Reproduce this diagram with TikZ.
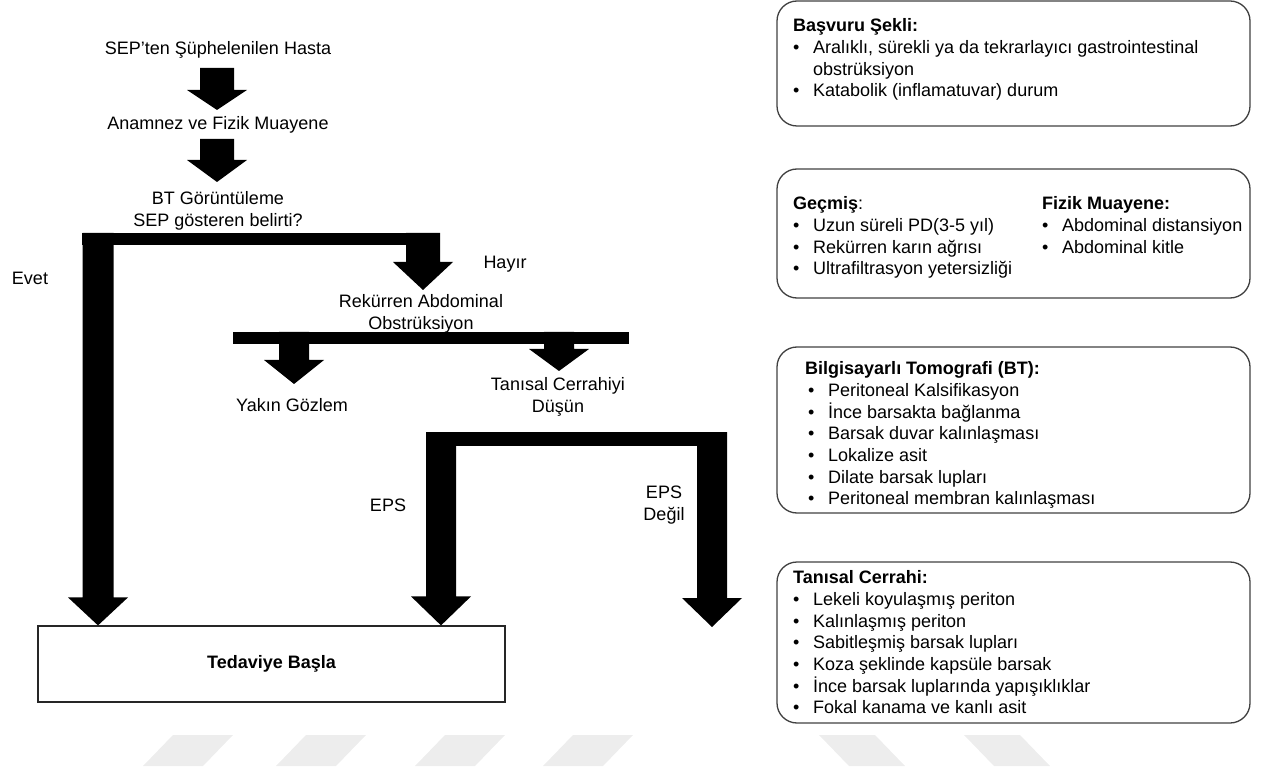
\documentclass[tikz,border=0pt]{standalone}
\usepackage{fontspec}
\setmainfont{Liberation Sans}
\usetikzlibrary{calc}

\tikzset{
	lbl/.style={font=\fontsize{18pt}{21.7pt}\selectfont, inner sep=0pt, align=center},
	infobox/.style={draw=black!75, line width=1.3pt, rounded corners=20pt, outer sep=0pt, minimum width=473pt},
	infotext/.style={font=\fontsize{18pt}{21.7pt}\selectfont, inner sep=0pt, anchor=north west, align=left},
	wmark/.style={fill=black!7}
}
\newcommand{\blt}{\makebox[20pt][l]{\textbullet}}
% block arrow pointing down: top, tip, head length, half shaft
\newcommand{\fatdown}[4]{%
	\fill let \p1=(#1), \p2=(#2) in (\x2-#4,\y1) -- (\x2+#4,\y1) -- (\x2+#4,\y2+#3) -- (\x2+30pt,\y2+#3)
		-- (\x2,\y2) -- (\x2-30pt,\y2+#3) -- (\x2-#4,\y2+#3) -- cycle;}

\begin{document}
\begin{tikzpicture}[x=1pt, y=-1pt]
		\useasboundingbox (0,0) rectangle (1267,767);
		
		% flow on the left
		\node[lbl] (hasta) at (218,50) {SEP’ten Şüphelenilen Hasta};
		\node[lbl] (anam) at (218,125) {Anamnez ve Fizik Muayene};
		\node[lbl] (bt) at (218,211) {BT Görüntüleme\\SEP gösteren belirti?};
		\node[lbl] (evet) at (30,278) {Evet};
		\node[lbl] (hayir) at (505,264) {Hayır};
		\node[lbl] (rekur) at (421,314) {Rekürren Abdominal\\Obstrüksiyon};
		\node[lbl] (yakin) at (292,405) {Yakın Gözlem};
		\node[lbl] (tanis) at (558,397) {Tanısal Cerrahiyi\\Düşün};
		\node[lbl] (eps) at (388,505) {EPS};
		\node[lbl] (epsd) at (664,505) {EPS\\Değil};
		\node[draw=black!85, line width=1.2pt, minimum width=467pt, minimum height=76pt,
			font=\fontsize{18pt}{21.7pt}\selectfont\bfseries] (tedavi) at (271.5,664) {Tedaviye Başla};
		
		% arrows
		\coordinate (a1s) at (217,68);
		\coordinate (a1e) at (217,110);
		\coordinate (a2s) at (217,139);
		\coordinate (a2e) at (217,182);
		\fatdown{a1s}{a1e}{20pt}{17pt}
		\fatdown{a2s}{a2e}{22pt}{17pt}
		
		\coordinate (b1w) at (82,233);
		\coordinate (b1e) at (440,245);
		\coordinate (b1a) at (98,233);
		\coordinate (b1b) at (423,233);
		\fill (b1w) rectangle (b1e);
		\fatdown{b1a}{b1a |- tedavi.north}{28pt}{15.5pt}
		\fatdown{b1b}{423,290}{28pt}{17pt}
		
		\coordinate (b2w) at (233,332);
		\coordinate (b2e) at (629,344);
		\coordinate (b2a) at (294,332);
		\coordinate (b2b) at (559,332);
		\fill (b2w) rectangle (b2e);
		\fatdown{b2a}{294,384}{24pt}{15pt}
		\fatdown{b2b}{559,371}{22pt}{15pt}
		
		\coordinate (b3w) at (426,432);
		\coordinate (b3e) at (727,446);
		\coordinate (b3a) at (441,432);
		\coordinate (b3b) at (712,432);
		\fill (b3w) rectangle (b3e);
		\fatdown{b3a}{b3a |- tedavi.north}{29pt}{15pt}
		\fatdown{b3b}{712,627}{29pt}{15pt}
		
		% boxes on the right
		\node[infobox, minimum height=125pt] (basvuru) at (1013.5,63.5) {};
		\node[infotext] (basvurut) at ($(basvuru.north west)+(16,17.5)$) {\textbf{Başvuru Şekli:}\\
			\blt Aralıklı, sürekli ya da tekrarlayıcı gastrointestinal\\
			\hspace*{20pt}obstrüksiyon\\
			\blt Katabolik (inflamatuvar) durum};
		
		\node[infobox, minimum height=129pt] (gecmis) at (1013.5,233.5) {};
		\node[infotext] (gecmist) at ($(gecmis.north west)+(16,27.5)$) {\textbf{Geçmiş}:\\
			\blt Uzun süreli PD(3-5 yıl)\\
			\blt Rekürren karın ağrısı\\
			\blt Ultrafiltrasyon yetersizliği};
		\node[infotext] (fizikt) at ($(gecmis.north west)+(265,27.5)$) {\textbf{Fizik Muayene:}\\
			\blt Abdominal distansiyon\\
			\blt Abdominal kitle};
		
		\node[infobox, minimum height=166pt] (bilgi) at (1013.5,430) {};
		\node[infotext] (bilgit) at ($(bilgi.north west)+(28,14.5)$) {\textbf{Bilgisayarlı Tomografi (BT):}\\
			\hspace*{3pt}\blt Peritoneal Kalsifikasyon\\
			\hspace*{3pt}\blt İnce barsakta bağlanma\\
			\hspace*{3pt}\blt Barsak duvar kalınlaşması\\
			\hspace*{3pt}\blt Lokalize asit\\
			\hspace*{3pt}\blt Dilate barsak lupları\\
			\hspace*{3pt}\blt Peritoneal membran kalınlaşması};
		
		\node[infobox, minimum height=161pt] (cerrahi) at (1013.5,642.5) {};
		\node[infotext] (cerrahit) at ($(cerrahi.north west)+(16,8.5)$) {\textbf{Tanısal Cerrahi:}\\
			\blt Lekeli koyulaşmış periton\\
			\blt Kalınlaşmış periton\\
			\blt Sabitleşmiş barsak lupları\\
			\blt Koza şeklinde kapsüle barsak\\
			\blt İnce barsak luplarında yapışıklıklar\\
			\blt Fokal kanama ve kanlı asit};
		
		% watermark
		\foreach \wx in {143,276,415,543}
			\fill[wmark] (\wx,766) -- ++(60,0) -- ++(30,-31) -- ++(-60,0) -- cycle;
		\foreach \wx in {849,994}
			\fill[wmark] (\wx,766) -- ++(56,0) -- ++(-30,-31) -- ++(-56,0) -- cycle;
		
		\end{tikzpicture}
\end{document}
